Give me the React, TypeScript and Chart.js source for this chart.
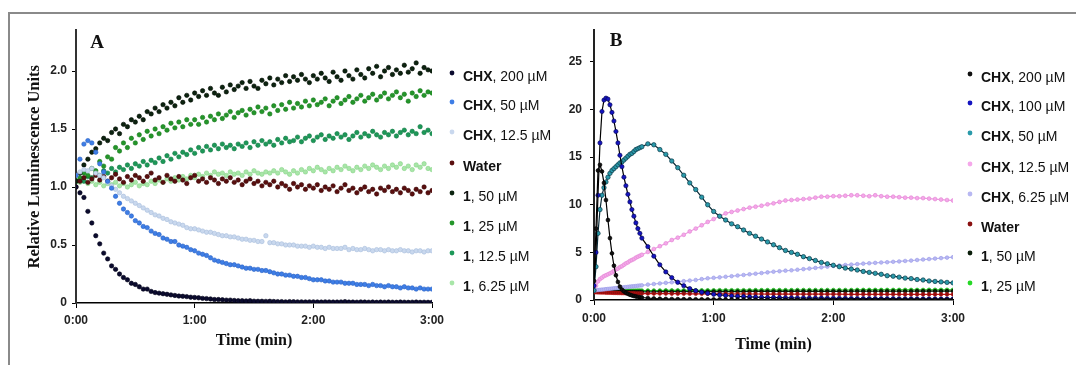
import { useEffect, useRef } from 'react';
import { Chart, registerables } from 'chart.js';

Chart.register(...registerables);

// ---------- Panel A: sampled every 2 s (91 points, 0–3 min) ----------
const A_STEP_SECONDS = 2;
const A_CHX_200 = [1.00,0.95,0.91,0.79,0.69,0.58,0.51,0.43,0.38,0.32,
  0.29,0.25,0.22,0.20,0.17,0.16,0.14,0.12,0.12,0.10,
  0.09,0.085,0.08,0.075,0.07,0.065,0.06,0.058,0.055,0.05,
  0.048,0.045,0.04,0.038,0.035,0.03,0.03,0.028,0.025,0.025,
  0.022,0.02,0.02,0.018,0.02,0.016,0.015,0.015,0.014,0.015,
  0.013,0.012,0.012,0.01,0.012,0.011,0.01,0.01,0.009,0.01,
  0.01,0.009,0.008,0.01,0.009,0.008,0.008,0.009,0.012,0.008,
  0.008,0.007,0.009,0.008,0.007,0.008,0.006,0.008,0.007,0.008,
  0.007,0.006,0.008,0.007,0.006,0.007,0.008,0.006,0.007,0.006,0.006];
const A_CHX_50 = [1.10,1.24,1.37,1.40,1.38,1.30,1.20,1.13,1.05,0.99,
  0.92,0.86,0.81,0.78,0.75,0.71,0.69,0.66,0.65,0.62,
  0.60,0.59,0.56,0.55,0.53,0.53,0.50,0.49,0.48,0.46,
  0.45,0.43,0.42,0.41,0.39,0.37,0.36,0.35,0.34,0.33,
  0.33,0.32,0.31,0.30,0.30,0.29,0.29,0.28,0.28,0.27,
  0.26,0.25,0.25,0.24,0.24,0.23,0.23,0.22,0.22,0.21,
  0.20,0.20,0.20,0.19,0.19,0.18,0.18,0.18,0.17,0.17,
  0.17,0.16,0.16,0.16,0.15,0.16,0.15,0.15,0.14,0.15,
  0.14,0.14,0.13,0.14,0.13,0.13,0.12,0.13,0.12,0.12,0.12];
const A_CHX_12_5 = [1.10,1.13,1.15,1.14,1.16,1.12,1.10,1.08,1.04,1.01,
  0.98,0.95,0.92,0.90,0.88,0.86,0.84,0.82,0.80,0.78,
  0.76,0.75,0.73,0.72,0.70,0.69,0.68,0.67,0.65,0.64,
  0.64,0.63,0.62,0.61,0.61,0.60,0.59,0.58,0.58,0.57,
  0.57,0.56,0.55,0.55,0.54,0.54,0.53,0.53,0.58,0.52,
  0.52,0.51,0.51,0.50,0.50,0.50,0.49,0.49,0.49,0.48,
  0.49,0.48,0.48,0.47,0.48,0.47,0.47,0.47,0.48,0.46,
  0.47,0.46,0.46,0.47,0.46,0.45,0.46,0.46,0.45,0.46,
  0.45,0.45,0.46,0.45,0.45,0.44,0.45,0.45,0.44,0.45,0.45];
const A_WATER = [1.00,1.05,1.08,1.04,1.07,1.10,1.06,1.09,1.05,1.08,
  1.11,1.07,1.04,1.09,1.06,1.10,1.08,1.05,1.09,1.12,
  1.06,1.08,1.04,1.10,1.07,1.05,1.09,1.06,1.03,1.08,
  1.10,1.05,1.07,1.04,1.08,1.06,1.03,1.07,1.05,1.08,
  1.04,1.06,1.02,1.05,1.07,1.03,1.05,1.01,1.04,1.02,
  1.05,1.00,1.03,1.01,0.98,1.03,1.00,1.02,0.98,1.01,
  0.99,1.02,0.97,1.00,0.98,1.01,0.96,0.99,1.02,0.97,
  0.99,0.95,0.98,1.00,0.96,0.98,0.94,0.99,0.97,1.00,
  0.96,0.98,0.95,0.99,0.97,0.94,0.98,0.96,1.00,0.95,0.97];
const A_C1_50 = [1.05,1.12,1.19,1.24,1.30,1.33,1.38,1.42,1.40,1.47,
  1.50,1.46,1.54,1.52,1.58,1.56,1.61,1.58,1.65,1.63,
  1.68,1.65,1.71,1.68,1.73,1.70,1.77,1.73,1.79,1.75,
  1.81,1.78,1.83,1.79,1.85,1.81,1.79,1.86,1.82,1.88,
  1.84,1.87,1.90,1.85,1.91,1.87,1.85,1.92,1.89,1.94,
  1.88,1.93,1.90,1.96,1.91,1.95,1.92,1.97,1.93,1.90,
  1.96,1.93,1.98,1.94,1.91,1.99,1.95,1.92,2.00,1.96,
  1.93,2.01,1.97,1.94,2.02,1.98,2.04,1.95,2.00,2.03,
  1.97,2.01,1.98,2.05,1.99,2.02,2.07,1.98,2.03,2.01,2.00];
const A_C1_25 = [1.05,1.08,1.12,1.10,1.16,1.14,1.22,1.18,1.26,1.24,
  1.34,1.31,1.38,1.34,1.42,1.38,1.45,1.41,1.48,1.44,
  1.50,1.46,1.52,1.49,1.55,1.51,1.56,1.52,1.58,1.54,
  1.58,1.54,1.60,1.56,1.61,1.58,1.63,1.59,1.62,1.65,
  1.60,1.64,1.66,1.62,1.67,1.64,1.69,1.65,1.68,1.63,
  1.70,1.66,1.71,1.67,1.73,1.68,1.72,1.69,1.74,1.70,
  1.75,1.71,1.73,1.76,1.70,1.74,1.77,1.72,1.75,1.78,
  1.73,1.76,1.79,1.74,1.77,1.80,1.75,1.78,1.81,1.76,
  1.79,1.82,1.77,1.80,1.74,1.81,1.78,1.83,1.79,1.82,1.81];
const A_C1_12_5 = [1.05,1.07,1.05,1.09,1.08,1.12,1.10,1.14,1.12,1.16,
  1.13,1.17,1.15,1.19,1.16,1.20,1.18,1.22,1.19,1.23,
  1.21,1.25,1.22,1.27,1.24,1.29,1.26,1.30,1.28,1.32,
  1.29,1.34,1.31,1.35,1.32,1.36,1.33,1.37,1.34,1.36,
  1.33,1.37,1.35,1.38,1.34,1.39,1.36,1.40,1.37,1.39,
  1.36,1.41,1.38,1.42,1.39,1.40,1.43,1.39,1.42,1.44,
  1.40,1.43,1.45,1.41,1.44,1.42,1.46,1.43,1.45,1.41,
  1.44,1.47,1.43,1.46,1.44,1.48,1.45,1.43,1.47,1.45,
  1.48,1.44,1.47,1.49,1.45,1.48,1.46,1.52,1.47,1.49,1.46];
const A_C1_6_25 = [1.05,1.04,1.06,1.03,1.05,1.02,1.04,1.01,1.03,1.02,
  1.04,1.01,1.03,1.00,1.02,1.04,1.01,1.03,1.02,1.05,
  1.03,1.06,1.04,1.07,1.05,1.08,1.06,1.09,1.07,1.10,
  1.08,1.11,1.09,1.12,1.10,1.13,1.11,1.12,1.10,1.13,
  1.11,1.12,1.10,1.13,1.11,1.14,1.12,1.11,1.13,1.12,
  1.14,1.12,1.15,1.13,1.11,1.14,1.12,1.15,1.13,1.16,
  1.14,1.17,1.15,1.13,1.16,1.14,1.17,1.15,1.18,1.16,
  1.14,1.17,1.15,1.18,1.16,1.19,1.17,1.15,1.18,1.16,
  1.19,1.17,1.20,1.16,1.18,1.15,1.19,1.17,1.20,1.16,1.15];

const A_LABELS = ['CHX, 200 µM','CHX, 50 µM','CHX, 12.5 µM','Water','1, 50 µM','1, 25 µM','1, 12.5 µM','1, 6.25 µM'];
const A_COLORS = ['#0b0b2e','#3e7ee6','#c9d8ee','#5a0f0f','#0c2410','#24962a','#1d9858','#a8e6a8'];
const A_EDGES = ['#000018','#2a62c4','#a8bedc','#3a0606','#000800','#187a1c','#137a44','#86d486'];
const A_Y_TICK_STEP = 0.5;

// ---------- Panel B: time in seconds ----------
const TIME_B = [0,1,2,3,4,5,6,7,8,9,10,11,12,13,14,15,16,17,18,19,20,21,22,23,24,
  27,30,33,36,39,42,45,48,51,54,57,60,63,66,69,72,75,78,81,84,87,90,93,96,99,
  102,105,108,111,114,117,120,123,126,129,132,135,138,141,144,147,150,153,156,159,
  162,165,168,171,174,177,180];
const B_CHX_200 = [2.0,7.5,13.6,14.2,13.5,12.3,10.5,8.4,6.5,4.9,3.6,2.6,1.9,1.4,1.1,0.9,0.75,0.65,0.55,0.48,0.42,0.37,0.33,0.29,0.26,
  0.2,0.16,0.13,0.11,0.1,0.09,0.085,0.08,0.075,0.07,
  0.065,0.06,0.06,0.055,0.055,0.05,0.05,0.05,0.045,0.045,
  0.045,0.04,0.04,0.04,0.04,0.04,0.04,0.04,0.04,0.04,
  0.04,0.04,0.035,0.035,0.035,0.035,0.035,0.035,0.035,0.035,
  0.035,0.035,0.03,0.03,0.03,0.03,0.03,0.03,0.03,0.03,0.03,0.03];
const B_CHX_100 = [1.5,5.0,11.0,16.5,19.8,21.0,21.2,21.1,20.5,19.7,18.8,17.7,16.5,15.2,14.0,12.9,12.0,11.1,10.3,9.5,8.8,8.1,7.5,7.0,6.5,
  5.6,4.6,3.7,2.95,2.35,1.85,1.5,1.2,0.98,0.82,
  0.7,0.6,0.53,0.47,0.42,0.38,0.35,0.32,0.3,0.28,
  0.26,0.25,0.24,0.23,0.22,0.21,0.21,0.2,0.19,0.19,
  0.18,0.18,0.17,0.17,0.16,0.16,0.15,0.15,0.15,0.14,
  0.14,0.14,0.13,0.13,0.13,0.12,0.12,0.12,0.12,0.11,0.11,0.11];
const B_CHX_50 = [1.0,3.5,7.0,9.5,11.0,11.8,12.4,12.9,13.3,13.6,13.8,14.0,14.2,14.4,14.5,14.7,14.9,15.1,15.3,15.4,15.6,15.8,15.9,16.0,16.1,
  16.4,16.3,15.8,15.3,14.6,13.9,13.1,12.3,11.6,10.8,
  10.0,9.3,8.8,8.4,8.0,7.7,7.35,7.0,6.7,6.4,
  6.1,5.8,5.5,5.2,5.0,4.8,4.55,4.35,4.15,3.95,
  3.8,3.65,3.5,3.35,3.25,3.15,3.0,2.9,2.8,2.7,
  2.55,2.5,2.4,2.3,2.25,2.15,2.1,2.0,1.95,1.9,1.85,1.8];
const B_CHX_12_5 = [1.0,1.5,1.95,2.2,2.35,2.5,2.6,2.7,2.8,2.9,3.05,3.2,3.3,3.45,3.55,3.7,3.85,3.95,4.1,4.2,4.3,4.45,4.55,4.65,4.75,
  5.05,5.35,5.65,5.95,6.3,6.55,6.85,7.2,7.5,7.85,
  8.2,8.5,8.8,9.1,9.25,9.4,9.55,9.7,9.8,9.9,
  10.05,10.15,10.3,10.45,10.5,10.55,10.6,10.65,10.75,10.85,
  10.85,10.9,10.9,10.95,11.0,11.0,10.95,10.9,11.0,10.9,
  10.85,10.85,10.8,10.75,10.75,10.7,10.7,10.65,10.6,10.55,10.5,10.45];
const B_CHX_6_25 = [1.0,1.02,1.05,1.07,1.09,1.11,1.14,1.16,1.18,1.2,1.23,1.25,1.27,1.29,1.32,1.34,1.36,1.38,1.41,1.43,1.45,1.47,1.5,1.52,1.54,
  1.62,1.68,1.74,1.8,1.86,1.92,1.98,2.04,2.1,2.2,
  2.28,2.33,2.38,2.44,2.5,2.57,2.63,2.7,2.76,2.83,
  2.9,2.97,3.02,3.08,3.12,3.18,3.24,3.3,3.37,3.43,
  3.5,3.57,3.63,3.68,3.72,3.77,3.82,3.86,3.9,3.94,
  3.97,4.01,4.05,4.1,4.14,4.2,4.25,4.3,4.35,4.4,4.45,4.5];
const B_WATER = [0.82,0.81,0.80,0.79,0.78,0.78,0.77,0.76,0.76,0.75,0.74,0.74,0.73,0.73,0.72,0.72,0.71,0.71,0.7,0.7,0.7,0.69,0.69,0.69,0.68,
  0.68,0.67,0.67,0.67,0.66,0.66,0.66,0.65,0.65,0.65,
  0.65,0.64,0.64,0.64,0.64,0.63,0.63,0.63,0.63,0.63,
  0.62,0.62,0.62,0.62,0.62,0.62,0.61,0.61,0.61,0.61,
  0.61,0.61,0.61,0.6,0.6,0.6,0.6,0.6,0.6,0.6,
  0.6,0.6,0.6,0.59,0.59,0.59,0.59,0.59,0.59,0.59,0.59,0.59];
const B_C1_50 = [0.88,0.87,0.87,0.86,0.86,0.86,0.85,0.85,0.85,0.85,0.85,0.84,0.84,0.84,0.84,0.84,0.84,0.85,0.85,0.85,0.85,0.85,0.85,0.86,0.86,
  0.86,0.86,0.87,0.87,0.87,0.87,0.88,0.88,0.88,0.88,
  0.88,0.89,0.89,0.89,0.89,0.89,0.89,0.9,0.9,0.9,
  0.9,0.9,0.9,0.9,0.9,0.91,0.91,0.91,0.91,0.91,
  0.91,0.91,0.91,0.91,0.92,0.92,0.92,0.92,0.92,0.92,
  0.92,0.92,0.92,0.92,0.92,0.93,0.93,0.93,0.93,0.93,0.93,0.93];
const B_C1_25 = [0.9,0.9,0.91,0.91,0.92,0.92,0.93,0.93,0.94,0.94,0.95,0.95,0.96,0.96,0.96,0.97,0.97,0.97,0.98,0.98,0.98,0.98,0.99,0.99,0.99,
  1.0,1.0,1.0,1.01,1.01,1.01,1.01,1.02,1.02,1.02,
  1.02,1.02,1.03,1.03,1.03,1.03,1.03,1.03,1.04,1.04,
  1.04,1.04,1.04,1.04,1.04,1.05,1.05,1.05,1.05,1.05,
  1.05,1.05,1.05,1.05,1.05,1.06,1.06,1.06,1.06,1.06,
  1.06,1.06,1.06,1.06,1.06,1.06,1.06,1.07,1.07,1.07,1.07,1.07];

const B_LABELS = ['CHX, 200 µM','CHX, 100 µM','CHX, 50 µM','CHX, 12.5 µM','CHX, 6.25 µM','Water','1, 50 µM','1, 25 µM'];
const B_POINT_COLORS = ['#101010','#1414c0','#2a9aaa','#f5a8ea','#b8b8f2','#8a1010','#0a1e0a','#26d826'];
const B_POINT_EDGES = ['#000000','#06065a','#0c3a48','#e48ad6','#9e9eea','#c01010','#000000','#12a812'];
const B_LINE_COLORS = ['#000000','#000000','#0a2a36','#ee9ae0','#b0b0ee','#c01010','#102010','#20c020'];
const B_POINT_RADII = [1.9, 2.1, 2.2, 1.9, 1.8, 1.8, 1.8, 1.8];
const B_Y_TICK_STEP = 5;

const X_TICK_STEP_MIN = 1;

const SANS = '"Liberation Sans", Arial, sans-serif';
const SERIF = '"Liberation Serif", "Times New Roman", serif';

const toPoints = (xs: number[], ys: number[]) => ys.map((y, i) => ({ x: xs[i], y }));

const decorPlugin = {
  id: 'panelDecor',
  afterDraw(chart: any, _args: any, opts: any) {
    const ctx = chart.ctx as CanvasRenderingContext2D;
    ctx.save();
    ctx.font = `bold 19px ${SERIF}`;
    ctx.fillStyle = '#111';
    ctx.textAlign = 'center';
    ctx.textBaseline = 'middle';
    ctx.fillText(opts.letter, opts.letterX, opts.letterY);
    chart.data.datasets.forEach((ds: any, i: number) => {
      const y = opts.rowY[i];
      ctx.beginPath();
      ctx.arc(opts.markerX, y - 4, 2.4, 0, Math.PI * 2);
      ctx.fillStyle = ds.legendColor;
      ctx.fill();
      const label: string = ds.label;
      const c = label.indexOf(',');
      const boldPart = c >= 0 ? label.slice(0, c) : label;
      const rest = c >= 0 ? label.slice(c) : '';
      ctx.textAlign = 'left';
      ctx.fillStyle = '#111';
      ctx.font = `bold 14px ${SANS}`;
      ctx.fillText(boldPart, opts.textX, y);
      const w = ctx.measureText(boldPart).width;
      ctx.font = `14px ${SANS}`;
      ctx.fillText(rest, opts.textX + w, y);
    });
    ctx.restore();
  },
};

function xAxis(titlePadBottom: number, labelPad: number, height: number) {
  return {
    type: 'linear',
    min: 0,
    max: 3,
    ticks: {
      stepSize: X_TICK_STEP_MIN,
      autoSkip: false,
      maxRotation: 0,
      padding: labelPad,
      color: '#222',
      font: { family: SANS, size: 12, weight: 'bold' },
      callback: (v: any) => `${v}:00`,
    },
    grid: { drawOnChartArea: false, drawTicks: true, tickLength: 5, color: '#000', lineWidth: 1 },
    border: { display: true, color: '#000', width: 1.5 },
    title: {
      display: true,
      text: 'Time (min)',
      color: '#111',
      font: { family: SERIF, size: 16, weight: 'bold' },
      padding: { top: 0, bottom: titlePadBottom },
    },
    afterFit: (s: any) => { s.height = height; },
  };
}

function makeConfigA(): any {
  const times = A_CHX_200.map((_, i) => (i * A_STEP_SECONDS) / 60);
  const series = [A_CHX_200, A_CHX_50, A_CHX_12_5, A_WATER, A_C1_50, A_C1_25, A_C1_12_5, A_C1_6_25];
  return {
    type: 'scatter',
    data: {
      datasets: series.map((ys, i) => ({
        label: A_LABELS[i],
        data: toPoints(times, ys),
        backgroundColor: A_COLORS[i],
        borderColor: A_EDGES[i],
        pointRadius: 2.2,
        pointBorderWidth: 0.6,
        legendColor: A_COLORS[i],
        showLine: false,
      })),
    },
    options: {
      responsive: false,
      animation: false,
      layout: { padding: { top: 30.4, right: 128, bottom: 0, left: 0 } },
      plugins: {
        legend: { display: false },
        tooltip: { enabled: false },
        panelDecor: { letter: 'A', letterX: 97, letterY: 43, markerX: 452, textX: 463, rowY: [77, 106, 136, 167, 197, 227, 257, 287] },
      },
      scales: {
        x: xAxis(14.4, 5, 62),
        y: {
          type: 'linear',
          min: 0,
          max: 2.35,
          ticks: {
            stepSize: A_Y_TICK_STEP,
            includeBounds: false,
            padding: 5,
            color: '#222',
            font: { family: SANS, size: 12, weight: 'bold' },
            callback: (v: any) => (Number(v) === 0 ? '0' : Number(v).toFixed(1)),
          },
          grid: { drawOnChartArea: false, drawTicks: true, tickLength: 4, color: '#000' },
          border: { display: true, color: '#333', width: 2 },
          title: {
            display: true,
            text: 'Relative Luminescence Units',
            color: '#111',
            font: { family: SERIF, size: 16.5, weight: 'bold' },
            padding: { top: 25, bottom: 0 },
          },
          afterFit: (s: any) => { s.width = 76; },
        },
      },
    },
    plugins: [decorPlugin],
  };
}

function makeConfigB(): any {
  const times = TIME_B.map((s) => s / 60);
  const series = [B_CHX_200, B_CHX_100, B_CHX_50, B_CHX_12_5, B_CHX_6_25, B_WATER, B_C1_50, B_C1_25];
  return {
    type: 'scatter',
    data: {
      datasets: series.map((ys, i) => ({
        label: B_LABELS[i],
        data: toPoints(times, ys),
        showLine: true,
        borderColor: B_LINE_COLORS[i],
        borderWidth: 1.2,
        backgroundColor: B_POINT_COLORS[i],
        pointBackgroundColor: B_POINT_COLORS[i],
        pointBorderColor: B_POINT_EDGES[i],
        pointRadius: B_POINT_RADII[i],
        pointBorderWidth: 0.7,
        legendColor: B_POINT_COLORS[i],
        tension: 0,
      })),
    },
    options: {
      responsive: false,
      animation: false,
      layout: { padding: { top: 29.6, right: 123, bottom: 0, left: 0 } },
      plugins: {
        legend: { display: false },
        tooltip: { enabled: false },
        panelDecor: { letter: 'B', letterX: 56, letterY: 41, markerX: 410, textX: 421, rowY: [78, 107, 137, 168, 198, 228, 257, 287] },
      },
      scales: {
        x: xAxis(10.4, 6, 65),
        y: {
          type: 'linear',
          min: 0,
          max: 28.4,
          ticks: {
            stepSize: B_Y_TICK_STEP,
            includeBounds: false,
            padding: 8,
            color: '#222',
            font: { family: SANS, size: 12, weight: 'bold' },
          },
          grid: { drawOnChartArea: false, drawTicks: true, tickLength: 4, color: '#000' },
          border: { display: true, color: '#222', width: 2 },
          afterFit: (s: any) => { s.width = 34; },
        },
      },
    },
    plugins: [decorPlugin],
  };
}

export default function App() {
  const refA = useRef<HTMLCanvasElement>(null);
  const refB = useRef<HTMLCanvasElement>(null);
  useEffect(() => {
    const a = new Chart(refA.current as HTMLCanvasElement, makeConfigA());
    const b = new Chart(refB.current as HTMLCanvasElement, makeConfigB());
    return () => {
      a.destroy();
      b.destroy();
    };
  }, []);
  return (
    <div style={{ position: 'absolute', left: 0, top: 0, width: 1076, height: 365, overflow: 'hidden', background: '#fff' }}>
      <div style={{ position: 'absolute', left: 8, top: 12, width: 1100, height: 420, border: '2px solid #8a8a8a', boxSizing: 'border-box' }} />
      <canvas ref={refA} width={560} height={365} style={{ position: 'absolute', left: 0, top: 0 }} />
      <canvas ref={refB} width={516} height={365} style={{ position: 'absolute', left: 560, top: 0 }} />
    </div>
  );
}
